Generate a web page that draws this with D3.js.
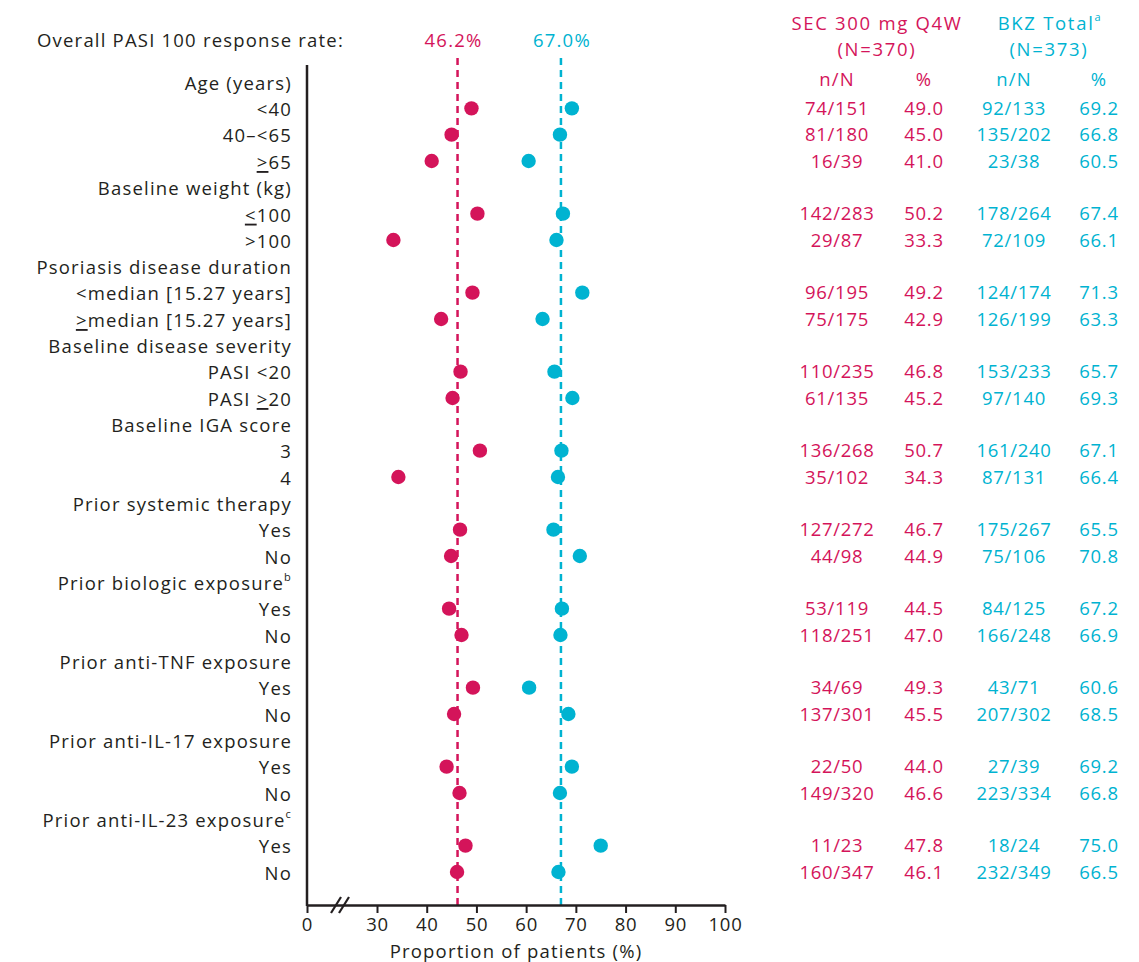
<!DOCTYPE html>
<html lang="en">
<head>
<meta charset="utf-8">
<script src="https://d3js.org/d3.v7.min.js"></script>
<style>
  body { margin: 0; background: white; }
  text { font-family: "Open Sans", sans-serif; fill: #231f20; font-size: 18.5px; letter-spacing: 1.2px; }
  text.num { letter-spacing: 0.7px; }
  text.head { letter-spacing: 1.7px; }
  .axis path, .axis line { stroke: #231f20; }
</style>
</head>
<body>
<div id="chart"></div>
<script>
// rows of the forest plot (header rows have no values); "_" marks an underlined symbol (≥ / ≤)
const labels = ["Age (years)", "<40", "40\u2013<65", "_>65",
  "Baseline weight (kg)", "_<100", ">100",
  "Psoriasis disease duration", "<median [15.27 years]", "_>median [15.27 years]",
  "Baseline disease severity", "PASI <20", "PASI _>20",
  "Baseline IGA score", "3", "4",
  "Prior systemic therapy", "Yes", "No",
  "Prior biologic exposure|b", "Yes", "No",
  "Prior anti-TNF exposure", "Yes", "No",
  "Prior anti-IL-17 exposure", "Yes", "No",
  "Prior anti-IL-23 exposure|c", "Yes", "No"];
const secN = [null, "74/151", "81/180", "16/39", null, "142/283", "29/87", null, "96/195", "75/175",
  null, "110/235", "61/135", null, "136/268", "35/102", null, "127/272", "44/98",
  null, "53/119", "118/251", null, "34/69", "137/301", null, "22/50", "149/320", null, "11/23", "160/347"];
const secPct = [null, 49.0, 45.0, 41.0, null, 50.2, 33.3, null, 49.2, 42.9,
  null, 46.8, 45.2, null, 50.7, 34.3, null, 46.7, 44.9,
  null, 44.5, 47.0, null, 49.3, 45.5, null, 44.0, 46.6, null, 47.8, 46.1];
const bkzN = [null, "92/133", "135/202", "23/38", null, "178/264", "72/109", null, "124/174", "126/199",
  null, "153/233", "97/140", null, "161/240", "87/131", null, "175/267", "75/106",
  null, "84/125", "166/248", null, "43/71", "207/302", null, "27/39", "223/334", null, "18/24", "232/349"];
const bkzPct = [null, 69.2, 66.8, 60.5, null, 67.4, 66.1, null, 71.3, 63.3,
  null, 65.7, 69.3, null, 67.1, 66.4, null, 65.5, 70.8,
  null, 67.2, 66.9, null, 60.6, 68.5, null, 69.2, 66.8, null, 75.0, 66.5];
const overallSec = 46.2, overallBkz = 67.0;
const xTicks = [0, 30, 40, 50, 60, 70, 80, 90, 100];

const RED = "#d4145a", CYAN = "#00b3d1";
const W = 1139, H = 962;

const svg = d3.select("#chart").append("svg")
  .attr("width", W).attr("height", H);

// broken x axis: 0 then 30..100
const x = d3.scaleLinear().domain([0, 30, 100]).range([307, 377, 725]);
const y = d3.scalePoint().domain(d3.range(labels.length)).range([82, 872]);
const axisY = 905;

// row labels
labels.forEach((l, i) => {
  const parts = l.split("|");
  const t = svg.append("text")
    .attr("x", 292).attr("y", y(i))
    .attr("text-anchor", "end")
    .attr("dominant-baseline", "central");
  const m = parts[0].indexOf("_");
  if (m >= 0) {
    t.append("tspan").text(parts[0].slice(0, m));
    t.append("tspan").style("text-decoration", "underline").text(parts[0][m + 1]);
    t.append("tspan").text(parts[0].slice(m + 2));
  } else {
    t.text(parts[0]);
  }
  if (parts[1]) {
    t.append("tspan").attr("dy", -6).style("font-size", "11px").text(parts[1]);
  }
});

// overall rate header
svg.append("text").attr("x", 37).attr("y", 39)
  .attr("dominant-baseline", "central")
  .text("Overall PASI 100 response rate:");
svg.append("text").attr("x", x(overallSec) - 4).attr("y", 39)
  .attr("text-anchor", "middle").attr("dominant-baseline", "central")
  .style("fill", RED).text(overallSec.toFixed(1) + "%");
svg.append("text").attr("x", x(overallBkz) + 1).attr("y", 39)
  .attr("text-anchor", "middle").attr("dominant-baseline", "central")
  .style("fill", CYAN).text(overallBkz.toFixed(1) + "%");

// dashed reference lines
[[overallSec, RED], [overallBkz, CYAN]].forEach(([v, c]) => {
  svg.append("line")
    .attr("x1", x(v)).attr("x2", x(v))
    .attr("y1", 58).attr("y2", axisY)
    .attr("stroke", c).attr("stroke-width", 2.5)
    .attr("stroke-dasharray", "7,5");
});

// y axis line
svg.append("line").attr("x1", 307).attr("x2", 307)
  .attr("y1", 65).attr("y2", axisY + 1)
  .attr("stroke", "#231f20").attr("stroke-width", 2.5);

// x axis
const xAxis = svg.append("g").attr("class", "axis")
  .attr("transform", `translate(0,${axisY})`)
  .call(d3.axisBottom(x).tickValues(xTicks).tickSize(8).tickPadding(5).tickSizeOuter(0));
xAxis.select(".domain").attr("stroke-width", 2.5);
xAxis.selectAll(".tick line").attr("stroke-width", 2);
xAxis.selectAll(".tick text").attr("class", "num")
  .style("font-size", "18.5px").style("font-family", "'Open Sans', sans-serif").attr("fill", "#231f20");

// axis break marks
[336, 344].forEach(bx => {
  svg.append("line").attr("x1", bx - 5).attr("x2", bx + 5)
    .attr("y1", axisY + 8).attr("y2", axisY - 8)
    .attr("stroke", "#231f20").attr("stroke-width", 2.2);
});

svg.append("text").attr("x", 516).attr("y", 950)
  .attr("text-anchor", "middle").attr("dominant-baseline", "central")
  .text("Proportion of patients (%)");

// dots
const rows = d3.range(labels.length).filter(i => secPct[i] !== null);
svg.append("g").selectAll("circle.sec").data(rows).join("circle")
  .attr("cx", i => x(secPct[i])).attr("cy", i => y(i)).attr("r", 7.2)
  .attr("fill", RED);
svg.append("g").selectAll("circle.bkz").data(rows).join("circle")
  .attr("cx", i => x(bkzPct[i])).attr("cy", i => y(i)).attr("r", 7.2)
  .attr("fill", CYAN);

// table on the right
const cols = [
  { x: 837, vals: secN, c: RED, head: "n/N" },
  { x: 924, vals: secPct.map(v => v === null ? null : v.toFixed(1)), c: RED, head: "%" },
  { x: 1014, vals: bkzN, c: CYAN, head: "n/N" },
  { x: 1099, vals: bkzPct.map(v => v === null ? null : v.toFixed(1)), c: CYAN, head: "%" }
];
cols.forEach(col => {
  svg.append("text").attr("x", col.x).attr("y", 78)
    .attr("text-anchor", "middle").attr("dominant-baseline", "central")
    .style("fill", col.c).text(col.head);
  rows.forEach(i => {
    svg.append("text").attr("class", "num").attr("x", col.x).attr("y", y(i) - 1)
      .attr("text-anchor", "middle").attr("dominant-baseline", "central")
      .style("fill", col.c).text(col.vals[i]);
  });
});

// group headers
svg.append("text").attr("class", "head").attr("x", 877).attr("y", 22)
  .attr("text-anchor", "middle").attr("dominant-baseline", "central")
  .style("fill", RED).text("SEC 300 mg Q4W");
svg.append("text").attr("class", "head").attr("x", 877).attr("y", 48)
  .attr("text-anchor", "middle").attr("dominant-baseline", "central")
  .style("fill", RED).text("(N=370)");
const bk = svg.append("text").attr("class", "head").attr("x", 1050).attr("y", 22)
  .attr("text-anchor", "middle").attr("dominant-baseline", "central")
  .style("fill", CYAN).text("BKZ Total");
bk.append("tspan").attr("dy", -6).style("font-size", "11px").style("fill", CYAN).text("a");
svg.append("text").attr("class", "head").attr("x", 1049).attr("y", 48)
  .attr("text-anchor", "middle").attr("dominant-baseline", "central")
  .style("fill", CYAN).text("(N=373)");
</script>
</body>
</html>
